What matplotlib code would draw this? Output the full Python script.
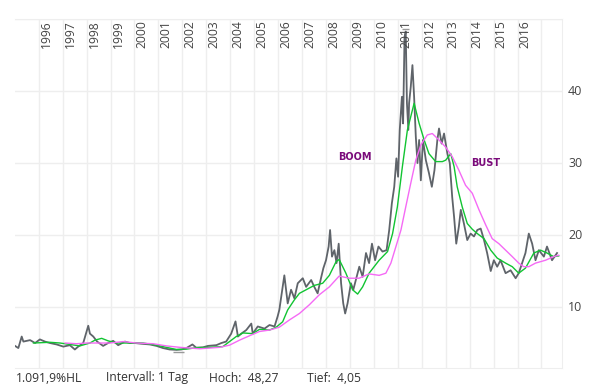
import matplotlib.pyplot as plt
import matplotlib.transforms as mtransforms
import numpy as np

# price (grey)
price_t = [1995.01, 1995.15, 1995.29, 1995.36, 1995.64, 1995.85, 1996.05, 1996.26, 1996.47, 1996.75,
           1997.03, 1997.30, 1997.51, 1997.65, 1997.86, 1998.07, 1998.14, 1998.28, 1998.44, 1998.69,
           1998.90, 1999.11, 1999.32, 1999.60, 1999.80, 2000.01, 2000.29, 2000.64, 2000.92, 2001.19,
           2001.47, 2001.75, 2001.96, 2002.17, 2002.42, 2002.58, 2002.86, 2003.07, 2003.42, 2003.63,
           2003.83, 2004.04, 2004.22, 2004.32, 2004.46, 2004.67, 2004.88, 2004.94, 2005.15, 2005.43,
           2005.64, 2005.85, 2005.98,
           2006.05, 2006.26, 2006.40, 2006.54, 2006.68, 2006.82, 2007.03, 2007.17, 2007.38, 2007.51,
           2007.65, 2007.79, 2007.89, 2008.00, 2008.11, 2008.17, 2008.25, 2008.35, 2008.44, 2008.53,
           2008.63, 2008.72, 2008.80, 2008.90, 2009.04, 2009.14, 2009.28, 2009.39, 2009.53, 2009.67,
           2009.80, 2009.92, 2010.05, 2010.19, 2010.36, 2010.53, 2010.64, 2010.75, 2010.85, 2010.94,
           2011.01, 2011.08, 2011.17, 2011.22, 2011.28, 2011.33, 2011.38, 2011.44, 2011.47, 2011.54,
           2011.61, 2011.68, 2011.75, 2011.82, 2011.89, 2011.96, 2012.05, 2012.17, 2012.30, 2012.42,
           2012.53, 2012.65, 2012.72, 2012.83, 2012.93, 2013.07, 2013.17, 2013.27, 2013.35, 2013.44,
           2013.55, 2013.63, 2013.76, 2013.90, 2014.04, 2014.18, 2014.32, 2014.46, 2014.60, 2014.73,
           2014.88, 2015.01, 2015.15, 2015.29, 2015.50, 2015.71, 2015.92, 2016.05, 2016.19, 2016.33,
           2016.47, 2016.61, 2016.75, 2016.89, 2017.10, 2017.23, 2017.44, 2017.65]
price = [4.6, 4.3, 5.9, 5.2, 5.4, 5.0, 5.5, 5.2, 5.0, 4.8,
         4.5, 4.7, 4.1, 4.5, 5.0, 7.4, 6.3, 5.9, 5.2, 4.6,
         5.0, 5.3, 4.7, 5.2, 5.0, 5.0, 4.9, 4.8, 4.6, 4.3,
         4.1, 4.05, 4.1, 4.3, 4.8, 4.35, 4.4, 4.6, 4.7, 5.0,
         5.2, 6.3, 8.0, 5.9, 6.3, 6.8, 7.7, 6.3, 7.3, 7.0,
         7.5, 7.3, 8.7,
         9.6, 14.4, 10.5, 12.4, 11.2, 13.3, 14.0, 12.8, 13.75, 12.8,
         11.9, 14.0, 15.4, 16.5, 18.4, 20.7, 17.0, 17.9, 16.1, 18.8,
         13.3, 10.5, 9.1, 10.5, 13.3, 12.4, 14.2, 15.6, 14.2, 17.5,
         16.1, 18.8, 16.5, 18.4, 17.7, 17.9, 20.7, 24.4, 26.7, 30.65,
         28.1, 34.6, 39.2, 35.5, 47.5, 48.27, 38.3, 34.6, 38.3, 40.6,
         43.6, 39.2, 33.7, 30.0, 33.2, 27.6, 33.2, 30.4, 28.6, 26.7,
         29.0, 33.2, 34.8, 32.7, 34.1, 31.3, 30.0, 25.3, 22.5, 18.8,
         21.2, 23.5, 21.6, 19.3, 20.2, 19.8, 20.7, 20.9, 19.3, 17.5,
         15.0, 16.5, 15.6, 16.5, 14.7, 15.1, 14.0, 14.7, 16.1, 17.5,
         20.2, 18.8, 16.5, 17.9, 17.0, 18.4, 16.5, 17.5]

# short moving average (green)
ma_short_t = [1995.78, 1996.47, 1996.89, 1997.30, 1997.72, 1998.14, 1998.35, 1998.63, 1998.90, 1999.25,
              1999.80, 2000.36, 2000.92, 2001.33, 2001.75, 2002.17, 2002.58, 2003.14, 2003.69, 2003.97,
              2004.25, 2004.53, 2004.94, 2005.22, 2005.64, 2005.92, 2006.19, 2006.40, 2006.68, 2006.89,
              2007.17, 2007.51, 2007.86, 2008.14, 2008.42, 2008.55, 2008.83, 2009.11, 2009.32, 2009.53,
              2009.80, 2010.22, 2010.57, 2010.78, 2010.98, 2011.19, 2011.40, 2011.68, 2011.89, 2012.10,
              2012.30, 2012.58, 2012.86, 2013.00, 2013.21, 2013.35, 2013.48, 2013.69, 2013.90, 2014.11,
              2014.32, 2014.60, 2014.88, 2015.15, 2015.50, 2015.78, 2016.05, 2016.33, 2016.68, 2016.96,
              2017.23, 2017.51, 2017.72]
ma_short = [5.0, 5.1, 5.0, 4.8, 4.6, 5.0, 5.4, 5.65, 5.3, 5.0,
            5.0, 5.0, 4.7, 4.4, 4.1, 4.15, 4.35, 4.4, 4.5, 5.2,
            5.9, 6.4, 6.3, 6.9, 6.8, 7.2, 7.95, 9.6, 11.0, 11.9,
            12.4, 13.0, 13.3, 14.4, 16.3, 16.6, 14.7, 12.4, 11.8, 12.8,
            14.7, 16.5, 17.7, 20.2, 23.9, 29.5, 34.6, 38.3, 35.5, 33.2,
            31.3, 30.2, 30.2, 30.4, 31.3, 29.5, 26.7, 23.9, 21.6, 20.8,
            20.2, 19.5, 17.9, 16.8, 16.1, 15.6, 14.7, 15.4, 17.5, 17.9,
            17.5, 17.0, 17.1]

# long moving average (magenta)
ma_long_t = [1997.10, 1997.58, 1998.00, 1998.42, 1998.97, 1999.53, 2000.08, 2000.78, 2001.33, 2001.89,
             2002.30, 2002.72, 2003.14, 2003.55, 2003.97, 2004.39, 2004.80, 2005.22, 2005.64, 2006.05,
             2006.47, 2006.89, 2007.30, 2007.72, 2008.14, 2008.55, 2008.97, 2009.38, 2009.80, 2010.22,
             2010.50, 2010.71, 2010.92, 2011.13, 2011.33, 2011.54, 2011.75, 2011.96, 2012.23, 2012.44,
             2012.72, 2013.00, 2013.27, 2013.55, 2013.83, 2014.11, 2014.39, 2014.67, 2014.94, 2015.22,
             2015.50, 2015.78, 2016.05, 2016.26, 2016.47, 2016.75, 2017.17, 2017.51, 2017.72]
ma_long = [5.0, 4.9, 5.0, 5.0, 5.0, 5.2, 5.0, 4.9, 4.6, 4.4,
           4.3, 4.2, 4.3, 4.4, 4.7, 5.4, 6.0, 6.6, 6.8, 7.2,
           8.2, 9.1, 10.3, 11.7, 12.8, 14.3, 14.0, 14.0, 14.6, 14.4,
           14.7, 16.1, 18.4, 20.7, 23.9, 27.2, 30.4, 32.5, 33.9, 34.1,
           33.2, 32.2, 30.9, 29.0, 26.9, 25.8, 23.5, 21.4, 19.5, 18.8,
           17.9, 17.0, 16.1, 15.6, 15.6, 16.1, 16.5, 17.0, 17.2]

years = list(range(1996, 2018))
year_labels = [str(y) for y in range(1996, 2017)]
y_ticks = [10, 20, 30, 40]
footer = ['1.091,9%HL', 'Intervall: 1 Tag', 'Hoch:  48,27', 'Tief:  4,05']

plt.rcParams['font.family'] = ['Open Sans', 'DejaVu Sans']

fig = plt.figure(figsize=(6, 3.89), dpi=100)
ax = fig.add_axes([0.025, 0.054, 0.911, 0.897])
ax.set_xlim(1995.01, 2017.84)
ax.set_ylim(1.53, 50)

# grid
for y in years:
    ax.axvline(y, color='#eeeeee', lw=1, zorder=0)
for v in [10, 20, 30, 40, 50]:
    ax.axhline(v, color='#eeeeee', lw=1, zorder=0)
for s in ['top', 'bottom', 'right']:
    ax.spines[s].set_color('#eeeeee')
ax.spines['left'].set_visible(False)
ax.set_xticks([])
ax.set_yticks([])

ax.plot(price_t, price, color='#5f646a', lw=1.3, zorder=2)
ax.plot(ma_short_t, ma_short, color='#11c432', lw=1, zorder=3)
ax.plot(ma_long_t, ma_long, color='#f56af5', lw=1, zorder=3)

# high / low markers
i_hi = int(np.argmax(price))
i_lo = int(np.argmin(price))
ax.hlines(price[i_hi] + 0.3, price_t[i_hi] - 0.15, price_t[i_hi] + 0.15, color='#999999', lw=1, zorder=4)
ax.hlines(price[i_lo] - 0.35, price_t[i_lo] - 0.12, price_t[i_lo] + 0.3, color='#999999', lw=1, zorder=4)

# year labels at top
trans = mtransforms.blended_transform_factory(ax.transData, ax.transAxes)
for lab in year_labels:
    ax.text(int(lab) + 0.05, 0.997, lab, transform=trans, rotation=90, ha='left', va='top',
            fontsize=8.7, color='#444444')

# right value labels
for v in y_ticks:
    ax.text(1.012, v, str(v), transform=mtransforms.blended_transform_factory(ax.transAxes, ax.transData),
            ha='left', va='center', fontsize=9, color='#444444')

ax.text(2009.22, 30.8, 'BOOM', ha='center', va='center', fontsize=7, fontweight='bold',
        color='#7a0a7a', family='DejaVu Sans')
ax.text(2014.68, 30.0, 'BUST', ha='center', va='center', fontsize=7, fontweight='bold',
        color='#7a0a7a', family='DejaVu Sans')

# footer
for x, s in zip([16, 106, 209, 307], footer):
    fig.text(x / 600, 1 - 378 / 389, s, ha='left', va='center', fontsize=8.7, color='#333333')

fig.savefig('out.png', dpi=100)
